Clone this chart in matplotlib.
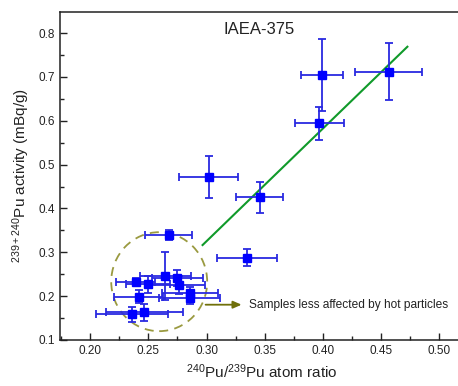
import matplotlib
matplotlib.use("Agg")
import matplotlib.pyplot as plt
from matplotlib.patches import Ellipse
from matplotlib.ticker import MultipleLocator
import numpy as np

plt.rcParams['font.family'] = ['Liberation Sans', 'DejaVu Sans']
plt.rcParams['mathtext.fontset'] = 'custom'
plt.rcParams['mathtext.rm'] = 'Liberation Sans'
plt.rcParams['mathtext.it'] = 'Liberation Sans:italic'

# data
ratio = [0.399, 0.4565, 0.397, 0.3017, 0.3456, 0.2673, 0.3347,
         0.239, 0.250, 0.2645, 0.275, 0.276, 0.2415, 0.286, 0.2855, 0.236, 0.2465]
ratio_err = [0.018, 0.029, 0.021, 0.025, 0.020, 0.020, 0.026,
             0.017, 0.019, 0.022, 0.022, 0.023, 0.021, 0.024, 0.026, 0.031, 0.033]
activity = [0.7035, 0.712, 0.594, 0.472, 0.4253, 0.3394, 0.2877,
            0.233, 0.227, 0.246, 0.241, 0.225, 0.199, 0.2065, 0.1965, 0.1586, 0.163]
activity_err = [0.082, 0.065, 0.037, 0.048, 0.035, 0.012, 0.020,
                0.008, 0.020, 0.055, 0.018, 0.020, 0.014, 0.015, 0.015, 0.017, 0.020]

fit_x = [0.2966, 0.4727]
fit_slope = 2.568
fit_intercept = -0.4451

xticks = [0.20, 0.25, 0.30, 0.35, 0.40, 0.45, 0.50]
yticks = [0.1, 0.2, 0.3, 0.4, 0.5, 0.6, 0.7, 0.8]

fig = plt.figure(figsize=(4.58, 3.86), dpi=100)
ax = fig.add_axes([60/458, 46/386, 404/458, 328/386])

ax.errorbar(ratio, activity, xerr=ratio_err, yerr=activity_err, fmt='s',
            color='#0000ff', ecolor='#2a2ae0', elinewidth=1.3, capsize=3,
            capthick=1.3, markersize=5.5, zorder=3)

fx = np.array(fit_x)
ax.plot(fx, fit_slope * fx + fit_intercept, color='#109a2a', lw=1.5, zorder=2)

ell = Ellipse((0.2593, 0.233), 0.0825, 0.2257, fill=False, edgecolor='#9a9a40',
              lw=1.3, ls=(0, (5, 3.5)), zorder=1)
ax.add_patch(ell)

ax.annotate('', xy=(0.3325, 0.1805), xytext=(0.2968, 0.1805),
            arrowprops=dict(arrowstyle='-|>,head_length=0.5,head_width=0.22',
                            color='#70700a', lw=1.3))
ax.text(0.3369, 0.1805, 'Samples less affected by hot particles', fontsize=8.6,
        va='center', ha='left', color='#222222')

ax.text(0.3456, 0.807, 'IAEA-375', fontsize=12, ha='center', va='center', color='#222222')

ax.set_xlim(0.174, 0.174 + 404/1163)
ax.set_ylim(0.1, 0.848)
ax.set_xticks(xticks)
ax.set_yticks(yticks)
ax.set_xticklabels([f'{v:.2f}' for v in xticks])
ax.set_yticklabels([f'{v:.1f}' for v in yticks])
ax.xaxis.set_minor_locator(MultipleLocator(0.025))
ax.yaxis.set_minor_locator(MultipleLocator(0.05))
ax.tick_params(which='both', direction='in', top=False, right=False, labelsize=8.5,
               colors='#222222', width=1.0)
ax.tick_params(which='major', length=5)
ax.tick_params(which='minor', length=3)
for s in ax.spines.values():
    s.set_linewidth(1.1)
    s.set_color('#222222')

ax.set_xlabel('$^{240}$Pu/$^{239}$Pu atom ratio', fontsize=11, labelpad=4, color='#222222')
ax.set_ylabel('$^{239+240}$Pu activity (mBq/g)', fontsize=11, labelpad=5, color='#222222')

fig.savefig('out.png', dpi=100)
